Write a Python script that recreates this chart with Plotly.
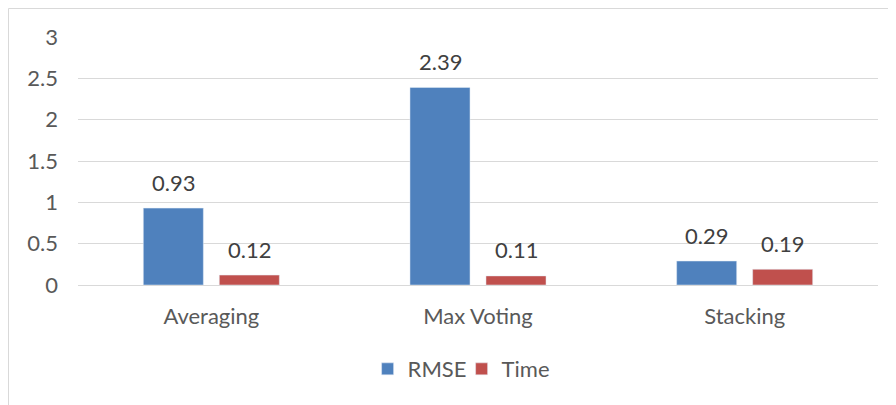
import plotly.graph_objects as go

categories = ["Averaging", "Max Voting", "Stacking"]
rmse = [0.93, 2.39, 0.29]
time_vals = [0.12, 0.11, 0.19]
y_ticks = [0, 0.5, 1, 1.5, 2, 2.5, 3]
y_tick_text = ["0", "0.5", "1", "1.5", "2", "2.5", "3"]

FONT = "Lato, Open Sans, sans-serif"
GRAY = "#595959"
LABEL = "#404040"
FS = 22

fig = go.Figure()
fig.add_trace(go.Bar(x=categories, y=rmse, name="RMSE", marker_color="#4F81BD"))
fig.add_trace(go.Bar(x=categories, y=time_vals, name="Time", marker_color="#C0504D"))

# data labels via annotations, offset to each bar of the group
for series, shift in ((rmse, -38), (time_vals, 38)):
    for c, v in zip(categories, series):
        fig.add_annotation(x=c, y=v, xref="x", yref="y", text=f"{v:.2f}",
                           showarrow=False, xshift=shift, yshift=26, yanchor="middle",
                           font=dict(size=FS, color=LABEL, family=FONT))

# page body has an 8px margin; figure sized to fit the window
W, H = 888, 397
L, R, T, B = 70, 18, 29, 120
pw = W - L - R
ph = H - T - B

fig.update_layout(
    width=W, height=H,
    margin=dict(l=L, r=R, t=T, b=B, pad=0, autoexpand=False),
    plot_bgcolor="white", paper_bgcolor="white",
    barmode="group", bargap=0.43, bargroupgap=0.21,
    font=dict(family=FONT, size=FS, color=GRAY),
    showlegend=True,
    legend=dict(orientation="h", x=0.362, xanchor="left", y=-0.339, yanchor="middle",
                font=dict(size=FS, color=GRAY), traceorder="normal", entrywidth=49),
    xaxis=dict(showgrid=False, showline=False, ticks="", tickfont=dict(size=FS, color=GRAY),
               ticklabelstandoff=16, automargin=False),
    yaxis=dict(range=[0, 3], tickvals=y_ticks, ticktext=y_tick_text, showgrid=True,
               gridcolor="#D9D9D9", gridwidth=1, zeroline=True, zerolinecolor="#D9D9D9",
               zerolinewidth=1, showline=False, ticks="", tickfont=dict(size=FS, color=GRAY),
               ticklabelstandoff=19, automargin=False),
)

fig.add_shape(type="rect", xref="paper", yref="paper",
              x0=(0.5 - L) / pw, x1=1.1, y0=-1.0, y1=(H - B - 0.5) / ph,
              line=dict(color="#D9D9D9", width=1), fillcolor="rgba(0,0,0,0)", layer="below")

fig.write_html("out.html")
